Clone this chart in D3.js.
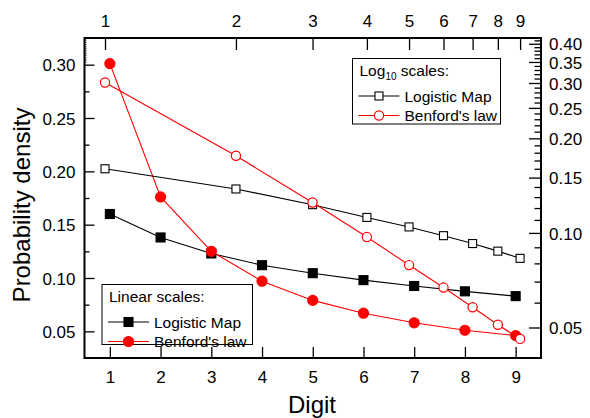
<!DOCTYPE html>
<html>
<head>
<meta charset="utf-8">
<script src="https://cdn.jsdelivr.net/npm/d3@7"></script>
<style>
  html, body { margin: 0; padding: 0; background: #fff; }
  svg { display: block; font-family: "Liberation Sans", Arial, sans-serif; }
</style>
</head>
<body>
<svg id="chart" width="590" height="418"></svg>
<script>
// First-digit probabilities
const digits = [1, 2, 3, 4, 5, 6, 7, 8, 9];
const logisticMap = [0.160, 0.138, 0.123, 0.112, 0.1045, 0.098, 0.0925, 0.0875, 0.083];
const benford = [0.301, 0.176, 0.125, 0.097, 0.079, 0.067, 0.058, 0.051, 0.046];

// Axis ticks
const linearYTicks = [0.05, 0.10, 0.15, 0.20, 0.25, 0.30];
const linearYMinor = [0.075, 0.125, 0.175, 0.225, 0.275];
const logYTicks = [0.05, 0.10, 0.15, 0.20, 0.25, 0.30, 0.35, 0.40];
const logYMinor = [0.06, 0.07, 0.08, 0.09, 0.11, 0.12, 0.13, 0.14, 0.16, 0.17, 0.18, 0.19,
                   0.21, 0.22, 0.23, 0.24, 0.26, 0.27, 0.28, 0.29, 0.31, 0.32, 0.33, 0.34,
                   0.36, 0.37, 0.38, 0.39, 0.41];

const RED = "#ff0000";
const svg = d3.select("#chart");
const L = 84.5, R = 541, T = 38, B = 358;

// Bottom / left: linear scales
const x = d3.scaleLinear().domain([0.5, 9.5]).range([L, R]);
const y = d3.scaleLinear().domain([0.025, 0.325]).range([B, T]);
// Top / right: log10 scales
const xLog = d3.scaleLog().domain([1, 10]).range([105, 540]);
const yLog = d3.scaleLog().domain([0.05, 0.5]).range([327.5, 13.3]);

const fmt2 = d3.format(".2f");
const tickFont = 17;

function styleAxis(g, fontSize) {
  g.select(".domain").remove();
  g.selectAll(".tick line").attr("stroke", "#000").attr("stroke-width", 1.3);
  g.selectAll(".tick text").attr("fill", "#000").style("font-size", fontSize + "px")
    .style("font-family", '"Liberation Sans", Arial, sans-serif');
}

// Bottom axis (ticks pointing in)
const gB = svg.append("g").attr("transform", `translate(0,${B})`)
  .call(d3.axisBottom(x).tickValues(digits).tickFormat(d3.format("d"))
        .tickSizeInner(-11).tickSizeOuter(0).tickPadding(15));
styleAxis(gB, tickFont);
gB.selectAll(".tick text").attr("y", 25).attr("dy", null);

// Left axis
const gL = svg.append("g").attr("transform", `translate(${L},0)`)
  .call(d3.axisLeft(y).tickValues(linearYTicks).tickFormat(fmt2)
        .tickSizeInner(-10).tickSizeOuter(0));
styleAxis(gL, tickFont);
gL.selectAll(".tick text").attr("x", -9).attr("dy", "0.36em");
const gLm = svg.append("g").attr("transform", `translate(${L},0)`)
  .call(d3.axisLeft(y).tickValues(linearYMinor).tickFormat("")
        .tickSizeInner(-5).tickSizeOuter(0));
styleAxis(gLm, tickFont);
// fine hatch along the upper part of the left spine
svg.append("g").selectAll("line").data(d3.range(40, 62.5, 2.2)).join("line")
  .attr("x1", L).attr("x2", L + 2).attr("y1", d => d).attr("y2", d => d)
  .attr("stroke", "#000").attr("stroke-width", 0.8);

// Top axis (log)
const gT = svg.append("g").attr("transform", `translate(0,${T})`)
  .call(d3.axisTop(xLog).tickValues(digits).tickFormat(d3.format("d"))
        .tickSizeInner(-12).tickSizeOuter(0));
styleAxis(gT, tickFont);
gT.selectAll(".tick text").attr("y", -11.5).attr("dy", null);

// Right axis (log)
const gR = svg.append("g").attr("transform", `translate(${R},0)`)
  .call(d3.axisRight(yLog).tickValues(logYTicks).tickFormat(fmt2)
        .tickSizeInner(-12).tickSizeOuter(0));
styleAxis(gR, tickFont);
gR.selectAll(".tick text").attr("x", 8).attr("dy", "0.36em");
const gRm = svg.append("g").attr("transform", `translate(${R},0)`)
  .call(d3.axisRight(yLog).tickValues(logYMinor).tickFormat("")
        .tickSizeInner(-6.5).tickSizeOuter(0));
styleAxis(gRm, tickFont);

// Frame
svg.append("rect").attr("x", L).attr("y", T).attr("width", R - L).attr("height", B - T)
  .attr("fill", "none").attr("stroke", "#000").attr("stroke-width", 2);

// Axis titles
svg.append("text").attr("x", 312).attr("y", 413).attr("text-anchor", "middle")
  .style("font-size", "24px").text("Digit");
svg.append("text").attr("transform", "translate(30,205) rotate(-90)").attr("text-anchor", "middle")
  .style("font-size", "24px").text("Probability density");

// Series drawing helpers
function drawLine(data, xs, ys, color) {
  svg.append("path")
    .datum(digits.map((d, i) => [d, data[i]]))
    .attr("fill", "none").attr("stroke", color).attr("stroke-width", 1.1)
    .attr("d", d3.line().x(p => xs(p[0])).y(p => ys(p[1])));
}
function squares(g, pts, size, fill, stroke) {
  g.selectAll(null).data(pts).join("rect")
    .attr("x", p => p[0] - size / 2).attr("y", p => p[1] - size / 2)
    .attr("width", size).attr("height", size)
    .attr("fill", fill).attr("stroke", stroke).attr("stroke-width", 1.1);
}
function circles(g, pts, r, fill, stroke) {
  g.selectAll(null).data(pts).join("circle")
    .attr("cx", p => p[0]).attr("cy", p => p[1]).attr("r", r)
    .attr("fill", fill).attr("stroke", stroke).attr("stroke-width", 1.2);
}

// Linear-scale series
drawLine(logisticMap, x, y, "#000");
squares(svg.append("g"), digits.map((d, i) => [x(d), y(logisticMap[i])]), 9, "#000", "#000");
drawLine(benford, x, y, RED);
circles(svg.append("g"), digits.map((d, i) => [x(d), y(benford[i])]), 5, RED, RED);

// Log-scale series
drawLine(logisticMap, xLog, yLog, "#000");
squares(svg.append("g"), digits.map((d, i) => [xLog(d), yLog(logisticMap[i])]), 8, "#fff", "#000");
drawLine(benford, xLog, yLog, RED);
circles(svg.append("g"), digits.map((d, i) => [xLog(d), yLog(benford[i])]), 4.6, "#fff", RED);

// Legends
function legend(box, titleParts, entries) {
  const g = svg.append("g");
  g.append("rect").attr("x", box.x).attr("y", box.y).attr("width", box.w).attr("height", box.h)
    .attr("fill", "#fff").attr("stroke", "#000").attr("stroke-width", 1);
  const t = g.append("text").attr("x", box.x + 7).attr("y", box.y + 17.5).style("font-size", "15.5px");
  titleParts.forEach(p => {
    const s = t.append("tspan").text(p.text);
    if (p.sub) s.style("font-size", "10px").attr("dy", 4);
    if (p.after) s.attr("dy", -4);
  });
  entries.forEach((e, i) => {
    const cy = box.y + 37.5 + i * 19.5;
    g.append("line").attr("x1", box.x + 6).attr("x2", box.x + 47).attr("y1", cy).attr("y2", cy)
      .attr("stroke", e.color).attr("stroke-width", 1.1);
    const mx = box.x + 26.5;
    if (e.shape === "square") squares(g, [[mx, cy]], e.size, e.fill, e.color);
    else circles(g, [[mx, cy]], e.size, e.fill, e.color);
    g.append("text").attr("x", box.x + 52).attr("y", cy + 5.5).style("font-size", "15.5px").text(e.label);
  });
}

legend({ x: 352.5, y: 58.5, w: 148, h: 65.5 },
  [{ text: "Log" }, { text: "10", sub: true }, { text: " scales:", after: true }],
  [{ label: "Logistic Map", color: "#000", shape: "square", size: 8, fill: "#fff" },
   { label: "Benford's law", color: RED, shape: "circle", size: 4.6, fill: "#fff" }]);

legend({ x: 102, y: 284.5, w: 150.5, h: 60 },
  [{ text: "Linear scales:" }],
  [{ label: "Logistic Map", color: "#000", shape: "square", size: 9, fill: "#000" },
   { label: "Benford's law", color: RED, shape: "circle", size: 5, fill: RED }]);
</script>
</body>
</html>
